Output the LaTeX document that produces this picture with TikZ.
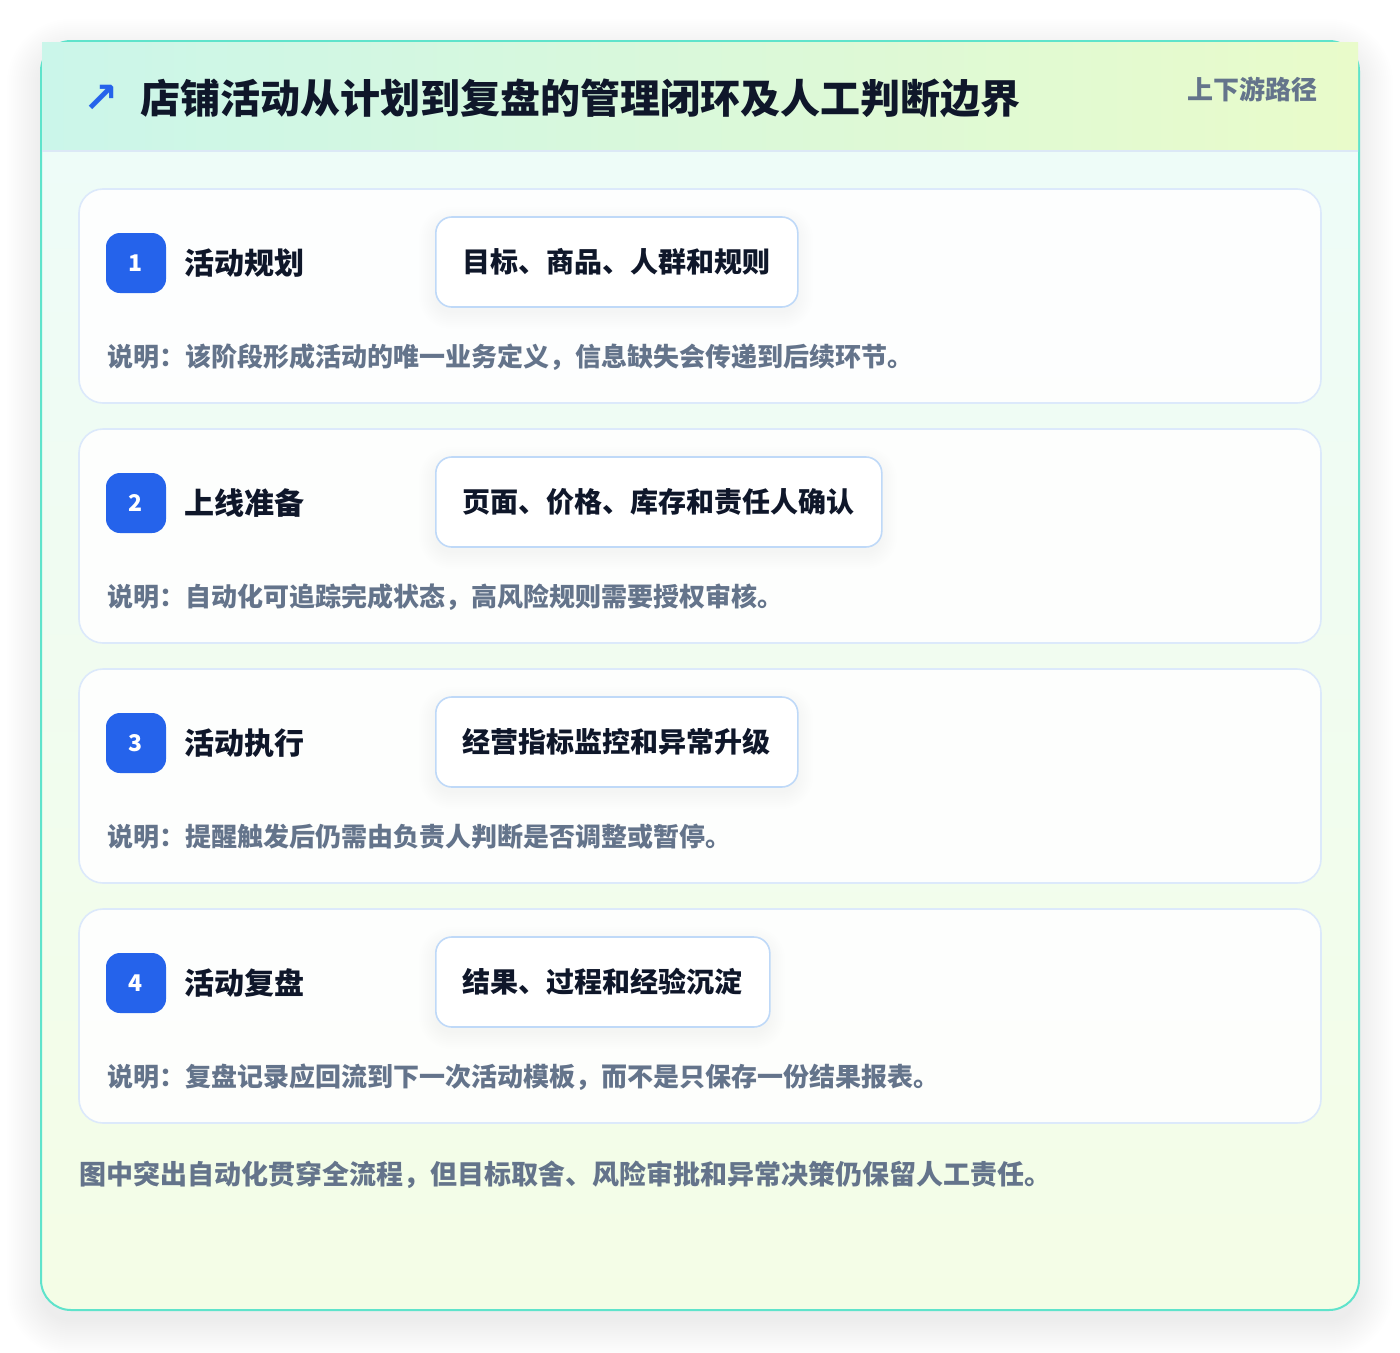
\documentclass[tikz,border=0pt]{standalone}
\usepackage{fontspec}
\setmainfont{Noto Sans CJK SC}
\newfontfamily\symfont{DejaVu Sans}
\definecolor{teal}{HTML}{5FE3CB}
\definecolor{headL}{HTML}{CBF6EA}
\definecolor{headR}{HTML}{E9FBCA}
\definecolor{bodyT}{HTML}{EEFCF8}
\definecolor{bodyB}{HTML}{F4FDE6}
\definecolor{cardline}{HTML}{DCE9FB}
\definecolor{boxline}{HTML}{BFD9F8}
\definecolor{badge}{HTML}{2563EB}
\definecolor{ink}{HTML}{0F172A}
\definecolor{muted}{HTML}{64748B}
\definecolor{sepline}{HTML}{DCE8F6}
\tikzset{
  cardbox/.style={draw=cardline, line width=1.6pt, fill=white, fill opacity=0.9, rounded corners=24pt},
  badgebox/.style={fill=badge, rounded corners=14pt, minimum width=60pt, minimum height=60pt, inner sep=0pt,
    text=white, font=\bfseries\fontsize{23}{26}\selectfont},
  stagetitle/.style={anchor=west, inner sep=0pt, text=ink, font=\bfseries\fontsize{30}{36}\selectfont},
  infobox/.style={anchor=west, draw=boxline, line width=1.6pt, fill=white, rounded corners=16pt,
    inner xsep=27pt, inner ysep=0pt, minimum height=90pt, text=ink, font=\bfseries\fontsize{28}{34}\selectfont},
  desc/.style={anchor=west, inner sep=0pt, text=muted, font=\bfseries\fontsize{26}{30}\selectfont},
  softshade/.style={fill=black, fill opacity=#1, draw=none},
}
\begin{document}
\begin{tikzpicture}[x=1pt,y=-1pt]
\useasboundingbox (0,0) rectangle (1400,1352);
\fill[white] (0,0) rectangle (1400,1352);
% outer soft shadow
\foreach \k in {0,2,...,34}{
  \fill[softshade=0.0045, rounded corners=30+\k] (41-\k,53-\k) rectangle (1359+\k,1322+\k);
}
% body gradient
\begin{scope}
\clip[rounded corners=30pt] (41,41) rectangle (1359,1310);
\fill[white] (41,41) rectangle (1359,1310);
\shade[top color=bodyT, bottom color=bodyB] (41,151) rectangle (1359,1310);
\end{scope}
\draw[teal, line width=2pt, rounded corners=30pt] (41,41) rectangle (1359,1310);
% header
\shade[left color=headL, right color=headR] (42,42) rectangle (1358,151);
\draw[sepline, line width=1.5pt] (42,151) -- (1358,151);
\node[anchor=west, inner sep=0pt, text=badge, font=\symfont\bfseries\fontsize{42}{46}\selectfont] (icon) at (83,99) {↗};
\node[anchor=west, inner sep=0pt, text=ink, font=\bfseries\fontsize{40}{46}\selectfont] (title) at (140,98)
  {店铺活动从计划到复盘的管理闭环及人工判断边界};
\node[anchor=east, inner sep=0pt, text=muted, font=\bfseries\fontsize{26}{30}\selectfont] (tag) at (1318,89)
  {上下游路径};
% cards
\foreach \i/\n/\t/\b/\d/\w in {
  0/1/活动规划/目标、商品、人群和规则/说明：该阶段形成活动的唯一业务定义，信息缺失会传递到后续环节。/797,
  1/2/上线准备/页面、价格、库存和责任人确认/说明：自动化可追踪完成状态，高风险规则需要授权审核。/881,
  2/3/活动执行/经营指标监控和异常升级/说明：提醒触发后仍需由负责人判断是否调整或暂停。/797,
  3/4/活动复盘/结果、过程和经验沉淀/说明：复盘记录应回流到下一次活动模板，而不是只保存一份结果报表。/769}{
  \pgfmathsetmacro{\top}{189+240*\i}
  \draw[cardbox] (79,\top) rectangle (1321,\top+214);
  \foreach \k in {0,2,...,16}{
    \fill[softshade=0.005, rounded corners=16+\k] (435-\k,\top+34-\k) rectangle (\w+\k,\top+124+\k);
  }
  \node[badgebox] (badge\n) at (136,\top+74) {\n};
  \node[stagetitle] (stage\n) at (184,\top+74) {\t};
  \node[infobox] (box\n) at (435,\top+73) {\b};
  \node[desc] (desc\n) at (107,\top+168) {\d};
}
\node[anchor=west, inner sep=0pt, text=muted, font=\bfseries\fontsize{27}{32}\selectfont] (foot) at (79,1175)
  {图中突出自动化贯穿全流程，但目标取舍、风险审批和异常决策仍保留人工责任。};
\end{tikzpicture}
\end{document}
